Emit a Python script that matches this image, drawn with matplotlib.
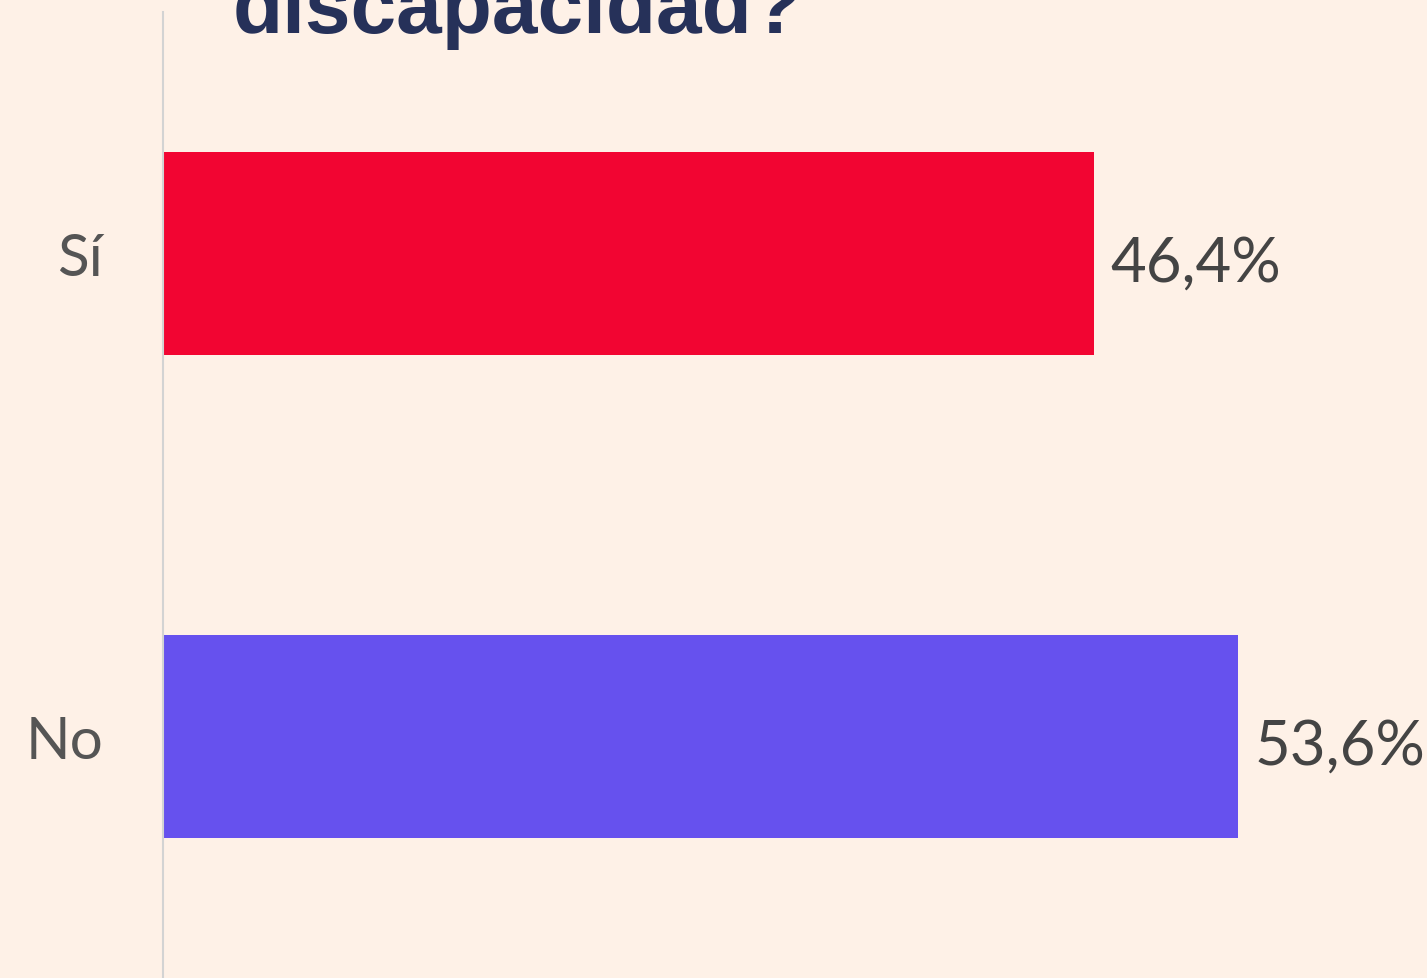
import matplotlib.pyplot as plt

categories = ["Sí", "No"]
values = [46.4, 53.6]
labels = ["46,4%", "53,6%"]
colors = ["#f20532", "#6651ee"]
title = "discapacidad?"

bg = "#fef1e7"

fig = plt.figure(figsize=(14.27, 9.79), dpi=100, facecolor=bg)
# axes: left edge at x=163px, top ~13px, running off the bottom of the figure
ax = fig.add_axes([163 / 1427, 0.0, 1 - 163 / 1427, 1 - 13 / 979])
ax.set_facecolor(bg)

pos = list(range(len(categories)))
ax.barh(pos, values, height=0.42, color=colors)
ax.set_xlim(0, 63)
ax.set_ylim(1.5, -0.5)

for p, v, lab in zip(pos, values, labels):
    ax.text(v + 0.8, p + 0.02, lab, va="center", ha="left",
            fontsize=44.5, family="Lato", color="#444444")

ax.set_yticks(pos)
ax.set_yticklabels(categories, fontsize=42, family="Lato", color="#555555")
ax.tick_params(axis="y", length=0, pad=43)
ax.set_xticks([])
for s in ["top", "right", "bottom"]:
    ax.spines[s].set_visible(False)
ax.spines["left"].set_color("#d3d3d3")
ax.spines["left"].set_linewidth(1.5)

fig.text(233 / 1427, 1 - 33 / 979, title, ha="left", va="baseline",
         fontsize=59, fontweight="bold", family="Liberation Sans",
         color="#263159")

fig.savefig("out.png", dpi=100, facecolor=bg)
